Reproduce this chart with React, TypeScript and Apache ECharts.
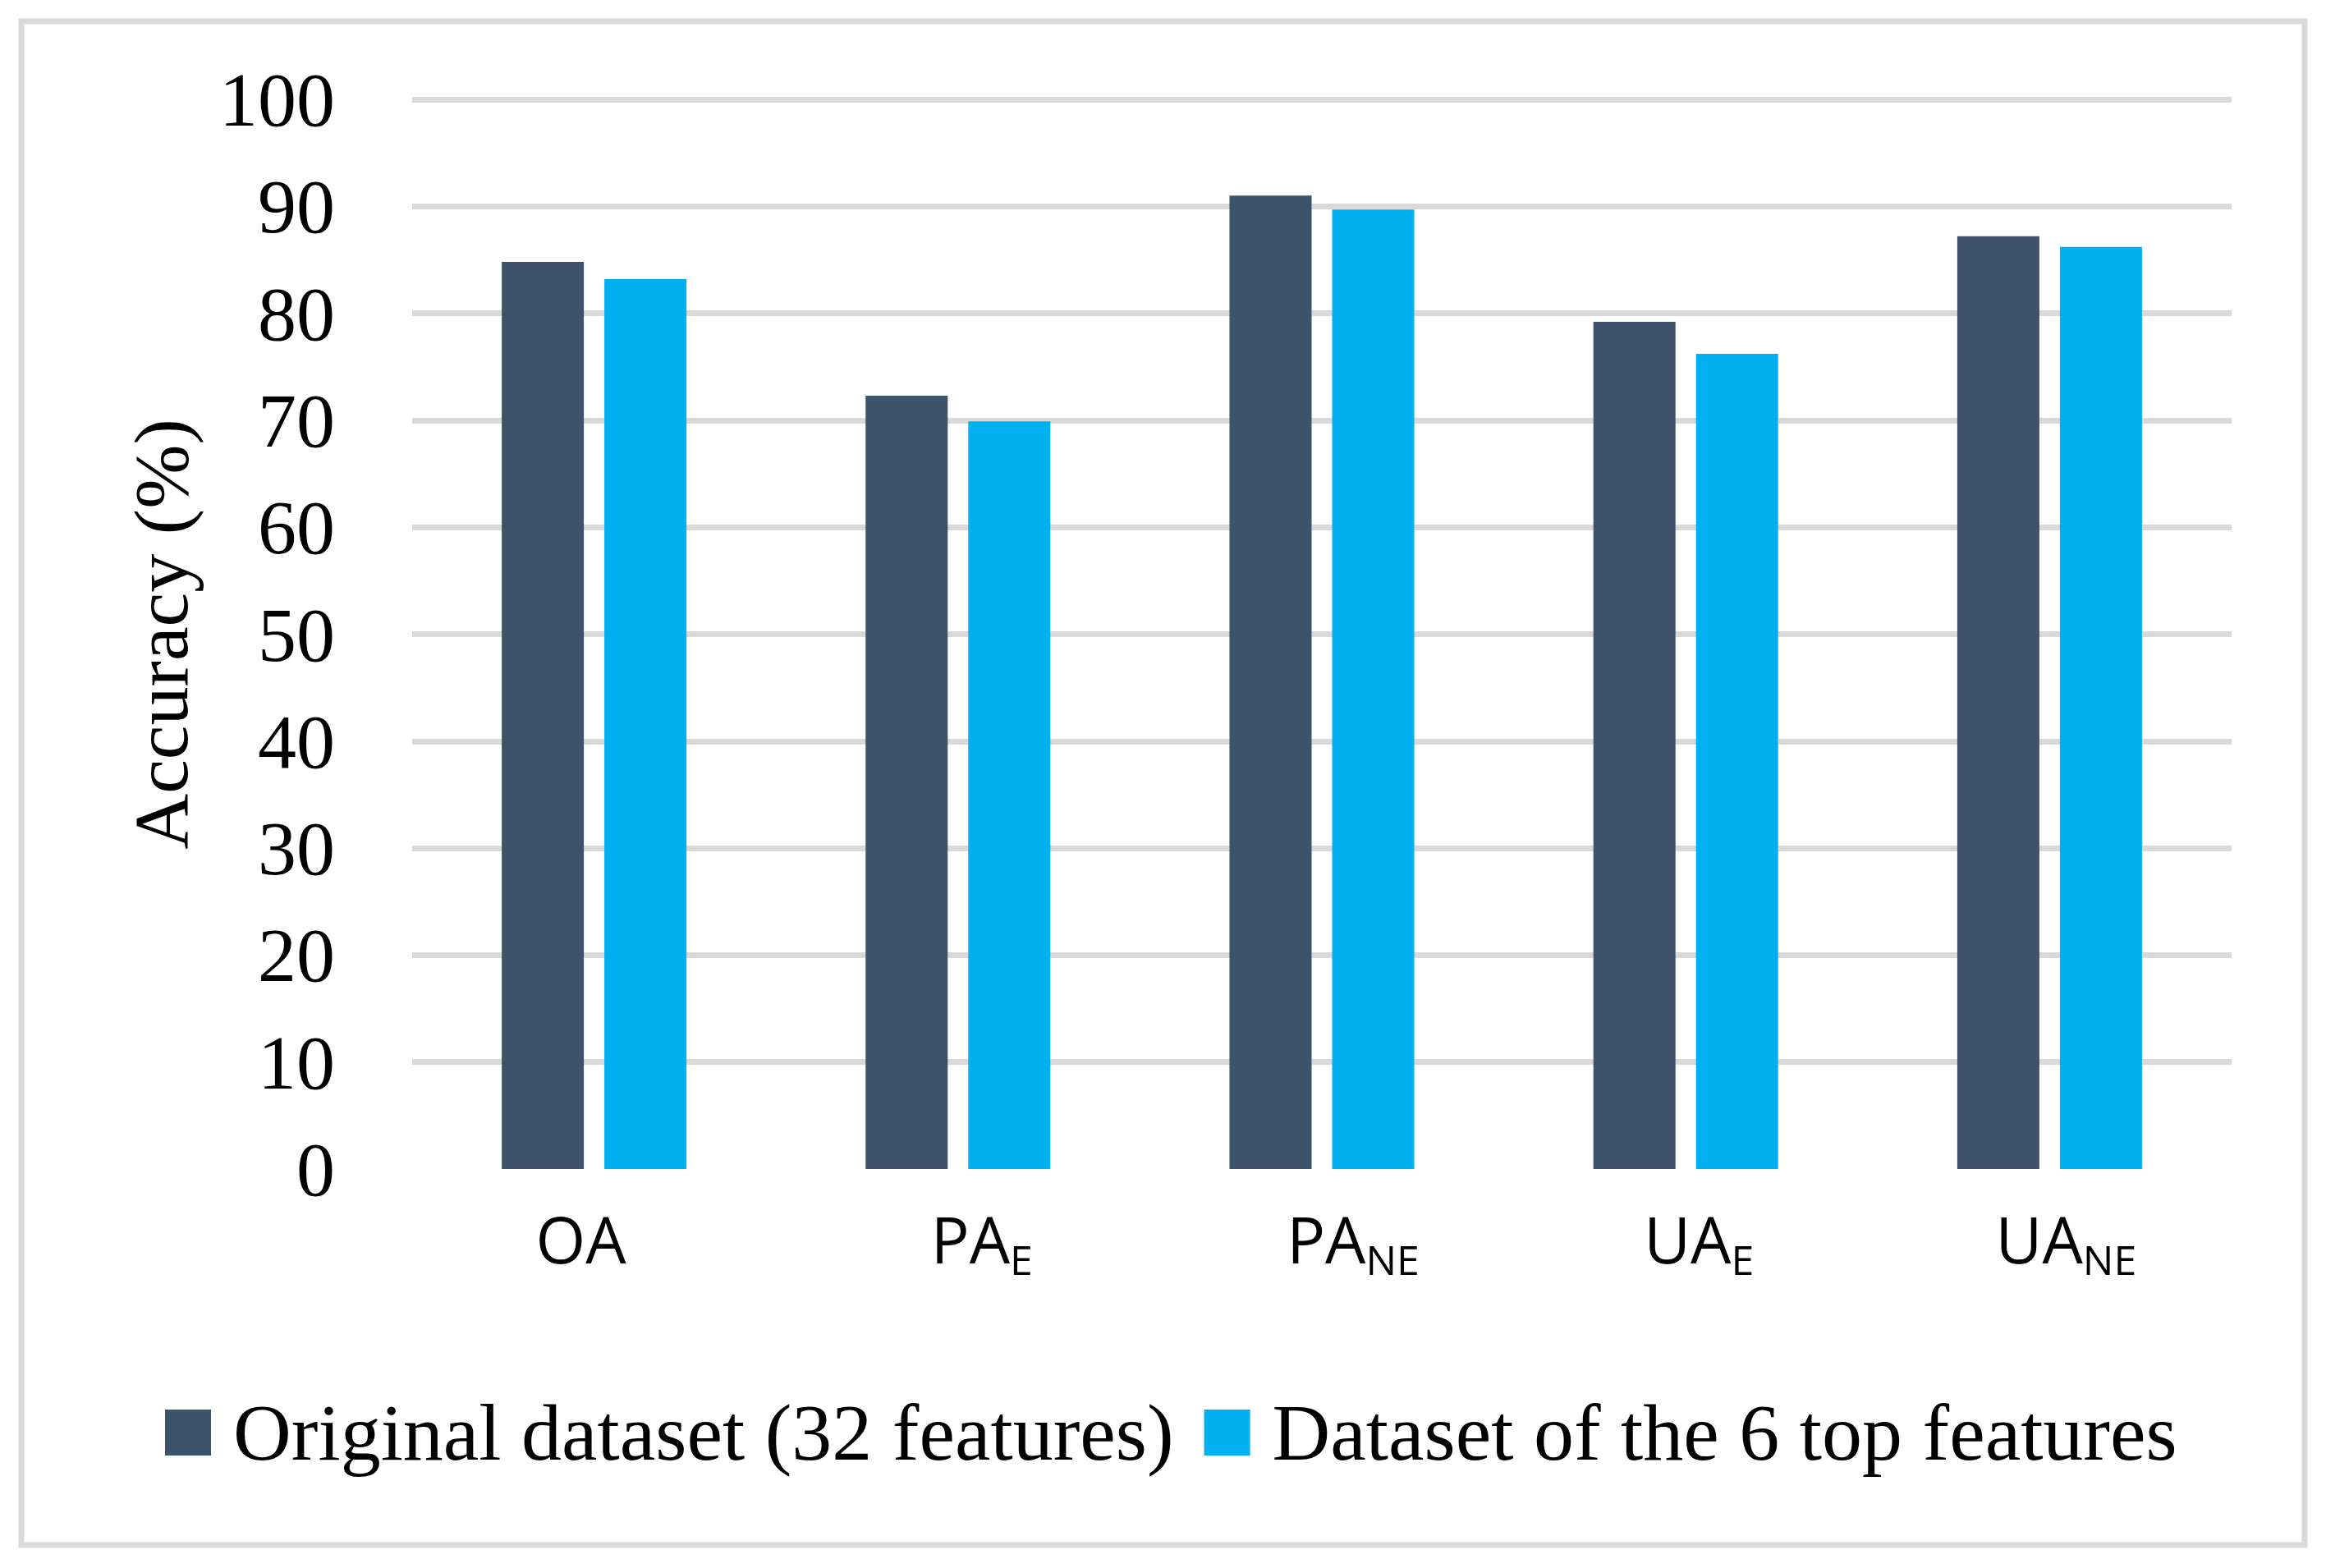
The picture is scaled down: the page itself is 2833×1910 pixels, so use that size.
import React, { useEffect, useRef } from "react";
import * as echarts from "echarts";

const categories = ["OA", "PA_E", "PA_NE", "UA_E", "UA_NE"];
const categoryMain = ["OA", "PA", "PA", "UA", "UA"];
const categorySub = ["", "E", "NE", "E", "NE"];
const seriesNames = ["Original dataset (32 features)", "Dataset of the 6 top features"];
const originalValues = [84.8, 72.3, 91.0, 79.2, 87.2];
const topSixValues = [83.2, 69.9, 89.7, 76.2, 86.2];
const yTicks = { min: 0, max: 100, interval: 10 };

const SERIF = '"Liberation Serif", "Times New Roman", serif';
const SANS = '"Open Sans", "Noto Sans", sans-serif';
// horizontal nudges of the category labels (px), layout only
const labelShift = [-16, 29, 38, 16, 20];

export default function App() {
  const ref = useRef<HTMLDivElement>(null);
  useEffect(() => {
    if (!ref.current) return;
    const chart = echarts.init(ref.current, undefined, { renderer: "svg" });
    const rich: Record<string, any> = {
      m: { fontFamily: SANS, fontSize: 78, color: "#000000", lineHeight: 100, verticalAlign: "middle" },
      s: { fontFamily: SANS, fontSize: 50, color: "#000000", lineHeight: 18, verticalAlign: "bottom" },
    };
    const labelMap: Record<string, string> = {};
    categories.forEach((c, i) => {
      const key = "p" + i;
      rich[key] = { width: Math.abs(labelShift[i]) * 2, fontSize: 10, lineHeight: 10 };
      const text = "{m|" + categoryMain[i] + "}" + (categorySub[i] ? "{s|" + categorySub[i] + "}" : "");
      labelMap[c] = labelShift[i] > 0 ? "{" + key + "| }" + text : text + "{" + key + "| }";
    });
    chart.setOption({
      animation: false,
      backgroundColor: "#ffffff",
      graphic: [
        {
          type: "rect",
          shape: { x: 26, y: 26, width: 2781, height: 1856 },
          style: { fill: "none", stroke: "#d9d9d9", lineWidth: 7 },
          z: 0,
        },
      ],
      grid: { left: 502, right: 115, top: 121, bottom: 486, containLabel: false },
      legend: {
        data: seriesNames,
        left: 196,
        top: 1691,
        itemWidth: 56,
        itemHeight: 56,
        itemGap: 37,
        icon: "rect",
        textStyle: {
          fontFamily: SERIF,
          fontSize: 98,
          color: "#000000",
          padding: [0, 0, 0, 22],
        },
      },
      xAxis: {
        type: "category",
        data: categories,
        axisLine: { show: false },
        axisTick: { show: false },
        axisLabel: {
          margin: 35,
          formatter: (v: string) => labelMap[v],
          rich,
        },
      },
      yAxis: {
        type: "value",
        min: yTicks.min,
        max: yTicks.max,
        interval: yTicks.interval,
        name: "Accuracy (%)",
        nameLocation: "middle",
        nameGap: 259,
        nameTextStyle: { fontFamily: SERIF, fontSize: 94, color: "#000000" },
        axisLine: { show: false },
        axisTick: { show: false },
        axisLabel: { fontFamily: SERIF, fontSize: 94, color: "#000000", margin: 94 },
        splitLine: { show: true, showMinLine: false, lineStyle: { color: "#d9d9d9", width: 7 } },
      },
      series: [
        {
          name: seriesNames[0],
          type: "bar",
          data: originalValues,
          barWidth: 100,
          barGap: "25%",
          itemStyle: { color: "#3d5369" },
        },
        {
          name: seriesNames[1],
          type: "bar",
          data: topSixValues,
          barWidth: 100,
          barGap: "25%",
          itemStyle: { color: "#00b0f0" },
        },
      ],
    });
    return () => chart.dispose();
  }, []);
  return (
    <div
      ref={ref}
      style={{ position: "absolute", left: 0, top: 0, width: 2833, height: 1910 }}
    />
  );
}
